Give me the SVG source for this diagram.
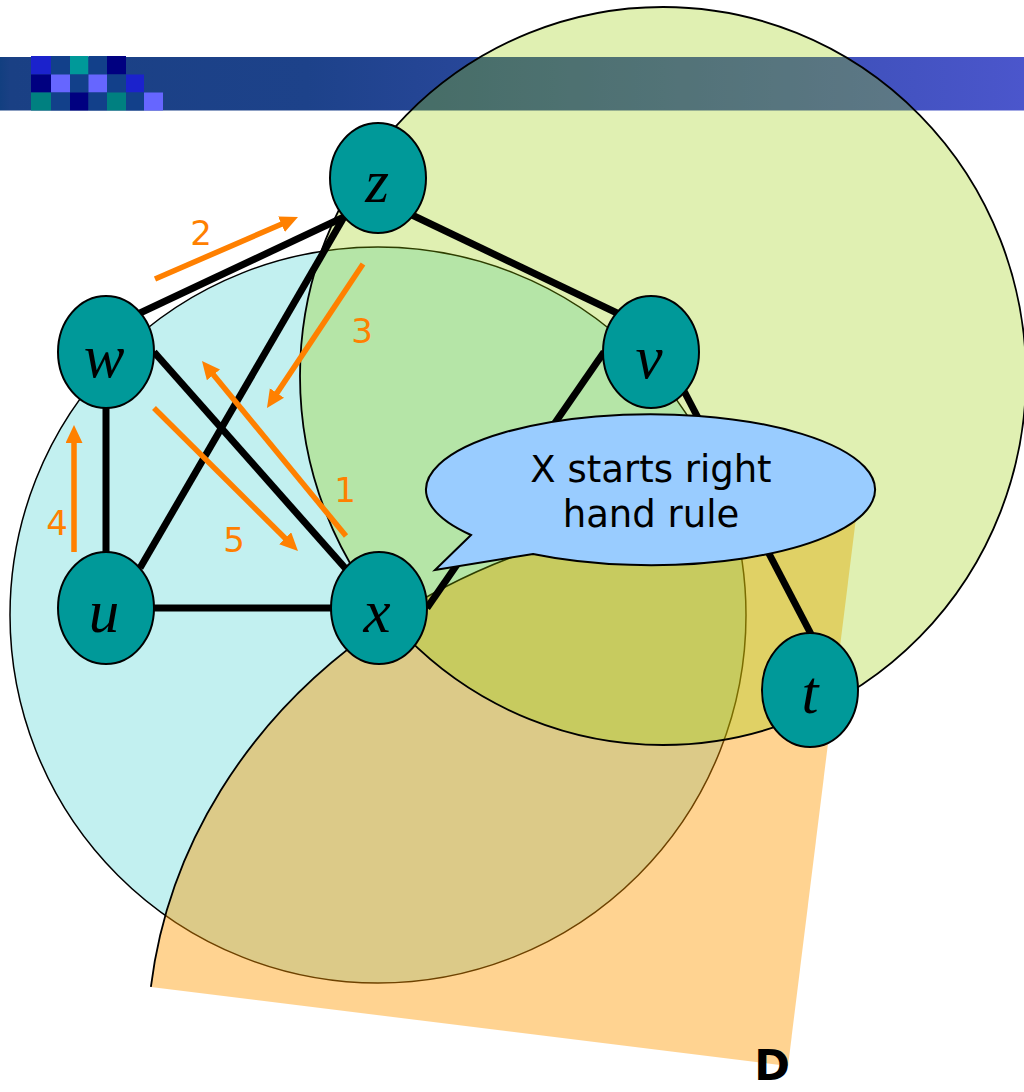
<svg xmlns="http://www.w3.org/2000/svg" width="1024" height="1092" viewBox="0 0 1024 1092">
  <defs>
    <linearGradient id="band" x1="0" y1="0" x2="1" y2="0">
      <stop offset="0" stop-color="#123F80"/>
      <stop offset="0.01" stop-color="#1A4084"/>
      <stop offset="0.3" stop-color="#1D428A"/>
      <stop offset="1" stop-color="#4B56CC"/>
    </linearGradient>
    <marker id="ah" markerUnits="userSpaceOnUse" markerWidth="20" markerHeight="18" refX="1" refY="8.5" orient="auto">
      <path d="M0,0 L18,8.5 L0,17 Z" fill="#FF8000"/>
    </marker>
    <style>
      .node { fill: #009999; stroke: #000; stroke-width: 2; }
      .nlabel { font-family: "Liberation Serif", "Times New Roman", serif; font-style: italic; font-size: 61px; fill: #000; text-anchor: middle; }
      .edge { stroke: #000; stroke-width: 7; fill: none; }
      .arrow { stroke: #FF8000; stroke-width: 5.5; fill: none; marker-end: url(#ah); }
      .alabel { font-family: "DejaVu Sans", Verdana, sans-serif; font-size: 34px; fill: #FF8000; text-anchor: middle; }
      .ctext { font-family: "DejaVu Sans", Verdana, sans-serif; font-size: 37px; fill: #000; text-anchor: middle; }
    </style>
  </defs>

  <rect width="1024" height="1092" fill="#FFFFFF"/>

  <!-- header band -->
  <g id="header">
    <rect x="0" y="57" width="1024" height="53.5" fill="url(#band)"/>
    <rect x="31" y="56" width="20" height="18.5" fill="#1B22CC"/>
    <rect x="51" y="56" width="19" height="18.5" fill="#12408A"/>
    <rect x="70" y="56" width="18.5" height="18.5" fill="#009999"/>
    <rect x="88.5" y="56" width="18.5" height="18.5" fill="#12408A"/>
    <rect x="107" y="56" width="19" height="18.5" fill="#000080"/>
    <rect x="31" y="74.5" width="20" height="18" fill="#000080"/>
    <rect x="51" y="74.5" width="19" height="18" fill="#6666FF"/>
    <rect x="70" y="74.5" width="18.5" height="18" fill="#12408A"/>
    <rect x="88.5" y="74.5" width="18.5" height="18" fill="#6666FF"/>
    <rect x="107" y="74.5" width="19" height="18" fill="#12408A"/>
    <rect x="126" y="74.5" width="18" height="18" fill="#1B22CC"/>
    <rect x="31" y="92.5" width="20" height="18" fill="#008080"/>
    <rect x="51" y="92.5" width="19" height="18" fill="#12408A"/>
    <rect x="70" y="92.5" width="18.5" height="18" fill="#000080"/>
    <rect x="88.5" y="92.5" width="18.5" height="18" fill="#12408A"/>
    <rect x="107" y="92.5" width="19" height="18" fill="#008080"/>
    <rect x="126" y="92.5" width="18" height="18" fill="#12408A"/>
    <rect x="144" y="92.5" width="19" height="18" fill="#6666FF"/>
  </g>

  <!-- regions -->
  <g id="region-blue">
    <circle cx="378" cy="615" r="368" fill="#C2F0F0" stroke="#000" stroke-width="1.5"/>
  </g>
  <g id="region-D" transform="translate(788 1066) rotate(7.07)">
    <path d="M0 0 L-642 0 A642 553 0 0 1 0 -553 Z" fill="#FF9900" fill-opacity="0.43"/>
    <path d="M-642 0 A642 553 0 0 1 0 -553" fill="none" stroke="#000" stroke-width="1.8"/>
  </g>
  <g id="region-green">
    <ellipse cx="663" cy="376" rx="363" ry="369" fill="#99CC00" fill-opacity="0.3" stroke="#000" stroke-width="1.8"/>
  </g>

  <!-- connectors -->
  <g id="edges">
    <line class="edge" x1="140" y1="313" x2="344" y2="217"/>
    <line class="edge" x1="344" y1="217" x2="140" y2="568"/>
    <line class="edge" x1="412" y1="215" x2="617" y2="313"/>
    <line class="edge" x1="154" y1="352" x2="346" y2="569"/>
    <line class="edge" x1="106" y1="406" x2="106" y2="554"/>
    <line class="edge" x1="152" y1="608" x2="333" y2="608"/>
    <line class="edge" x1="604" y1="352" x2="427" y2="608"/>
    <line class="edge" x1="684" y1="391" x2="812" y2="636"/>
  </g>

  <g id="arrows">
    <line class="arrow" x1="346" y1="536" x2="212.8" y2="374.1"/>
    <line class="arrow" x1="155" y1="279" x2="282.4" y2="223.8"/>
    <line class="arrow" x1="363" y1="264" x2="276.4" y2="393.9"/>
    <line class="arrow" x1="74" y1="552" x2="74" y2="442"/>
    <line class="arrow" x1="154" y1="408" x2="285.9" y2="539"/>
    <text class="alabel" x="345" y="502">1</text>
    <text class="alabel" x="201" y="245">2</text>
    <text class="alabel" x="362" y="343">3</text>
    <text class="alabel" x="57" y="535">4</text>
    <text class="alabel" x="234" y="552">5</text>
  </g>

  <!-- nodes -->
  <g id="node-z"><ellipse class="node" cx="378" cy="178" rx="48" ry="55"/><text class="nlabel" x="377" y="202">z</text></g>
  <g id="node-w"><ellipse class="node" cx="106" cy="352" rx="48" ry="56"/><text class="nlabel" x="104" y="377">w</text></g>
  <g id="node-v"><ellipse class="node" cx="651" cy="352" rx="48" ry="56"/><text class="nlabel" x="649" y="378">v</text></g>
  <g id="node-u"><ellipse class="node" cx="106" cy="608" rx="48" ry="56"/><text class="nlabel" x="104" y="632">u</text></g>
  <g id="node-x"><ellipse class="node" cx="379" cy="608" rx="48" ry="56"/><text class="nlabel" x="377" y="632">x</text></g>
  <g id="node-t"><ellipse class="node" cx="810" cy="690" rx="48" ry="57"/><text class="nlabel" x="810" y="713">t</text></g>

  <!-- callout -->
  <g id="callout">
    <path d="M533 554 A224.5 75.5 0 1 0 471 535 L435 570 Z" fill="#99CCFF" stroke="#000" stroke-width="2"/>
    <text class="ctext" x="651" y="482">X starts right</text>
    <text class="ctext" x="651" y="527">hand rule</text>
  </g>

  <g id="label-D">
    <text x="772" y="1080" font-family="DejaVu Sans, Verdana, sans-serif" font-weight="bold" font-size="43" text-anchor="middle" fill="#000">D</text>
  </g>
</svg>
